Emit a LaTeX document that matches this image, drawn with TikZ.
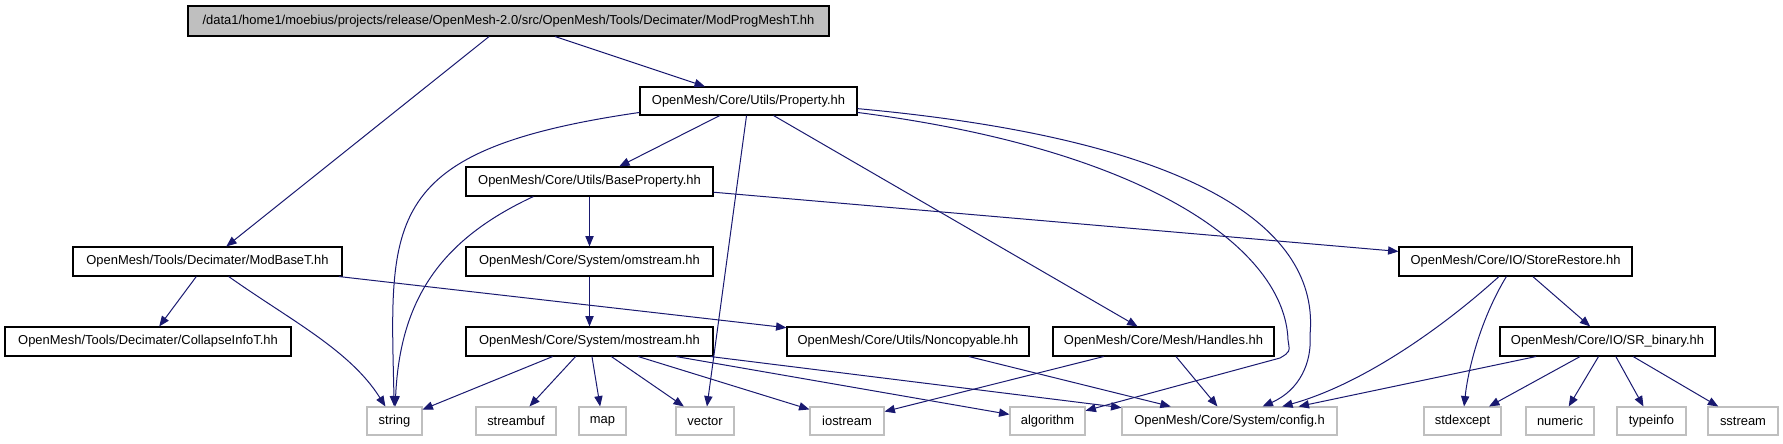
\documentclass[tikz,border=0pt]{standalone}
\usepackage{fontspec}
\setmainfont{Liberation Sans}
\usetikzlibrary{arrows.meta}
\definecolor{edgeblue}{HTML}{191970}
\definecolor{sysgray}{HTML}{BFBFBF}
\definecolor{rootfill}{HTML}{BFBFBF}

\begin{document}
\begin{tikzpicture}[
  x=0.75pt, y=-0.75pt,
  hdr/.style={
    draw=black, line width=0.8pt, fill=white, inner sep=0pt,
    minimum height=21.75pt,
    font=\fontsize{9.7}{11}\selectfont
  },
  root/.style={hdr, fill=rootfill, minimum height=22.5pt},
  sys/.style={hdr, draw=sysgray, minimum height=21pt},
  dep/.style={draw=edgeblue, line width=0.75pt, -{Triangle[length=7.8pt,width=6.2pt]}}
]
\useasboundingbox (0,0) rectangle (1783,443);

% TOP FILE
\node[root, minimum width=480.75pt] (modProg) at (508.5,21)
  {/data1/home1/moebius/projects/release/OpenMesh-2.0/src/OpenMesh/Tools/Decimater/ModProgMeshT.hh};

% OPENMESH HEADERS
\node[hdr, minimum width=162.75pt, minimum height=21pt] (property) at (748.5,101) {OpenMesh/Core/Utils/Property.hh};
\node[hdr, minimum width=185.25pt] (baseProp) at (589.5,181.5) {OpenMesh/Core/Utils/BaseProperty.hh};
\node[hdr, minimum width=201.75pt] (modBase) at (207.5,261.5) {OpenMesh/Tools/Decimater/ModBaseT.hh};
\node[hdr, minimum width=185.25pt] (omstream) at (589.5,261.5) {OpenMesh/Core/System/omstream.hh};
\node[hdr, minimum width=174.75pt] (storeRestore) at (1515.5,261.5) {OpenMesh/Core/IO/StoreRestore.hh};
\node[hdr, minimum width=214.5pt] (collapseInfo) at (148,341.5) {OpenMesh/Tools/Decimater/CollapseInfoT.hh};
\node[hdr, minimum width=185.25pt] (mostream) at (589.5,341.5) {OpenMesh/Core/System/mostream.hh};
\node[hdr, minimum width=181.5pt] (noncopy) at (908,341.5) {OpenMesh/Core/Utils/Noncopyable.hh};
\node[hdr, minimum width=165.75pt] (handles) at (1163.5,341.5) {OpenMesh/Core/Mesh/Handles.hh};
\node[hdr, minimum width=161.25pt] (srBinary) at (1607.5,341.5) {OpenMesh/Core/IO/SR\_binary.hh};

% SYSTEM HEADERS
\node[sys, minimum width=41.25pt] (string) at (394.5,421) {string};
\node[sys, minimum width=60pt] (streambuf) at (516,421) {streambuf};
\node[sys, minimum width=35.25pt] (map) at (602.5,421) {map};
\node[sys, minimum width=43.5pt] (vector) at (705,421) {vector};
\node[sys, minimum width=55.5pt] (iostream) at (847,421) {iostream};
\node[sys, minimum width=56.25pt] (algorithm) at (1047.5,421) {algorithm};
\node[sys, minimum width=161.25pt] (config) at (1229.5,421) {OpenMesh/Core/System/config.h};
\node[sys, minimum width=57.75pt] (stdexcept) at (1462.5,421) {stdexcept};
\node[sys, minimum width=51pt] (numeric) at (1560,421) {numeric};
\node[sys, minimum width=51.75pt] (typeinfo) at (1651.5,421) {typeinfo};
\node[sys, minimum width=52.5pt] (sstream) at (1743,421) {sstream};

% FROM TOP FILE
\draw[dep] (modProg) -- (modBase);
\draw[dep] (modProg) -- (property);

% FROM PROPERTY
\draw[dep] (property.-174) .. controls (380,150) and (390,220) .. (string);
\draw[dep] (property) -- (baseProp);
\draw[dep] (property) -- (vector);
\draw[dep] (property) -- (handles);
\draw[dep] (property.-4) .. controls (1200,140) and (1320,230) .. (1310,335)
  .. controls (1312,362) and (1300,390) .. (config);
\draw[dep] (property.-6) .. controls (1150,150) and (1285,250) .. (1288,340)
  .. controls (1290,352) .. (1280,358) -- (algorithm);

% FROM BASEPROPERTY
\draw[dep] (baseProp.-165) .. controls (440,240) and (400,300) .. (string);
\draw[dep] (baseProp) -- (omstream);
\draw[dep] (baseProp) -- (storeRestore);

% FROM MODBASET
\draw[dep] (modBase) -- (collapseInfo);
\draw[dep] (modBase) .. controls (290,320) and (350,350) .. (string);
\draw[dep] (modBase) -- (noncopy);

% FROM OMSTREAM / MOSTREAM
\draw[dep] (omstream) -- (mostream);
\foreach \dst in {string, streambuf, map, vector, iostream, algorithm, config}
  \draw[dep] (mostream) -- (\dst);

% FROM NONCOPYABLE / HANDLES
\draw[dep] (noncopy) -- (config);
\draw[dep] (handles) -- (iostream);
\draw[dep] (handles) -- (config);

% FROM STORERESTORE
\draw[dep] (storeRestore) .. controls (1440,330) and (1360,385) .. (config);
\draw[dep] (storeRestore) .. controls (1480,320) and (1468,370) .. (stdexcept);
\draw[dep] (storeRestore) -- (srBinary);

% FROM SR_BINARY
\foreach \dst in {config, stdexcept, numeric, typeinfo, sstream}
  \draw[dep] (srBinary) -- (\dst);

\end{tikzpicture}
\end{document}
